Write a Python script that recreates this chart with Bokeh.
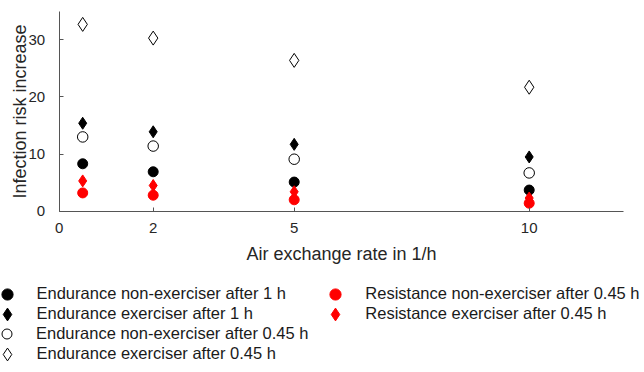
from bokeh.plotting import figure
from bokeh.models import Legend, LegendItem, FixedTicker, Range1d
from bokeh.embed import file_html
from bokeh.resources import INLINE

# ---- data ----
air_exchange = [0.5, 2, 5, 10]
endurance_nonex_1h = [8.3, 6.9, 5.1, 3.7]
endurance_ex_1h = [15.4, 13.9, 11.7, 9.5]
endurance_nonex_045h = [13.0, 11.4, 9.1, 6.7]
endurance_ex_045h = [32.7, 30.3, 26.4, 21.7]
resistance_nonex_045h = [3.2, 2.8, 2.0, 1.4]
resistance_ex_045h = [5.3, 4.5, 3.4, 2.3]
x_ticks = [0, 2, 5, 10]
y_ticks = [0, 10, 20, 30]
x_limits = (0, 12)
y_limits = (0, 35)

FONT = "Liberation Sans"
TXT = "#262626"
W, H = 644, 372

# frame covers the whole canvas; axes are pinned at data zero
X0_PX, X_PER = 58.7, 47.0          # pixel of x=0, pixels per unit
Y0_PX, Y_PER = 210.7, 5.713        # pixel (from top) of y=0, pixels per unit
x_range = Range1d(-X0_PX / X_PER, (W - X0_PX) / X_PER)
y_range = Range1d(-(H - Y0_PX) / Y_PER, Y0_PX / Y_PER)

p = figure(width=W, height=H, output_backend="svg", toolbar_location=None,
           x_range=x_range, y_range=y_range,
           min_border_left=0, min_border_right=0, min_border_top=0, min_border_bottom=0)
p.outline_line_color = None
p.xgrid.visible = False
p.ygrid.visible = False

r1 = p.scatter(air_exchange, endurance_nonex_1h, marker="circle", size=10,
               fill_color="black", line_color="black")
r2 = p.scatter(air_exchange, endurance_ex_1h, marker="diamond", size=12,
               fill_color="black", line_color="black")
r3 = p.scatter(air_exchange, endurance_nonex_045h, marker="circle", size=10.5,
               fill_color=None, line_color="black", line_width=1)
r4 = p.scatter(air_exchange, endurance_ex_045h, marker="diamond", size=14,
               fill_color=None, line_color="black", line_width=1)
r5 = p.scatter(air_exchange, resistance_nonex_045h, marker="circle", size=10,
               fill_color="red", line_color="red")
r6 = p.scatter(air_exchange, resistance_ex_045h, marker="diamond", size=12,
               fill_color="red", line_color="red")

for ax in (p.xaxis[0], p.yaxis[0]):
    ax.fixed_location = 0
    ax.axis_line_color = "#555555"
    ax.major_tick_line_color = "#555555"
    ax.major_tick_in = 4
    ax.major_tick_out = 0
    ax.minor_tick_line_color = None
    ax.major_label_text_font = FONT
    ax.major_label_text_font_size = "15px"
    ax.major_label_text_color = TXT
    ax.axis_label_text_font = FONT
    ax.axis_label_text_font_size = "18px"
    ax.axis_label_text_font_style = "normal"
    ax.axis_label_text_color = TXT

p.xaxis.ticker = FixedTicker(ticks=x_ticks)
p.yaxis.ticker = FixedTicker(ticks=y_ticks)
p.xaxis.bounds = x_limits
p.yaxis.bounds = y_limits
p.xaxis.axis_label = "Air exchange rate in 1/h"
p.yaxis.axis_label = "Infection risk increase"
p.xaxis.major_label_standoff = 12
p.xaxis.axis_label_standoff = 7
p.yaxis.major_label_standoff = 14
p.yaxis.axis_label_standoff = -4


def add_legend_item(label, renderer, msize, mx, my, lx):
    box = int(round(msize / 0.4))
    vx = mx - box / 2
    vy = H - (my + box / 2)
    standoff = int(round(lx - (mx + box / 2)))
    lg = Legend(items=[LegendItem(label=label, renderers=[renderer])],
                location=(vx, vy), orientation="vertical",
                glyph_width=box, glyph_height=box, label_height=20,
                label_standoff=standoff, padding=0, margin=0, spacing=0,
                border_line_color=None, background_fill_alpha=0,
                label_text_font=FONT, label_text_font_size="16.5px",
                label_text_color="#1a1a1a")
    p.add_layout(lg, "center")


COL1_M, COL1_T = 6.5, 36
COL2_M, COL2_T = 335.3, 365
ROWS = [293.5, 313.5, 333.5, 353.5]
add_legend_item("Endurance non-exerciser after 1 h", r1, 11, COL1_M, ROWS[0], COL1_T)
add_legend_item("Endurance exerciser after 1 h", r2, 13, COL1_M, ROWS[1], COL1_T)
add_legend_item("Endurance non-exerciser after 0.45 h", r3, 10, COL1_M, ROWS[2], COL1_T)
add_legend_item("Endurance exerciser after 0.45 h", r4, 13, COL1_M, ROWS[3], COL1_T)
add_legend_item("Resistance non-exerciser after 0.45 h", r5, 11, COL2_M, ROWS[0], COL2_T)
add_legend_item("Resistance exerciser after 0.45 h", r6, 13, COL2_M, ROWS[1], COL2_T)

open("out.html", "w").write(file_html(p, INLINE))
